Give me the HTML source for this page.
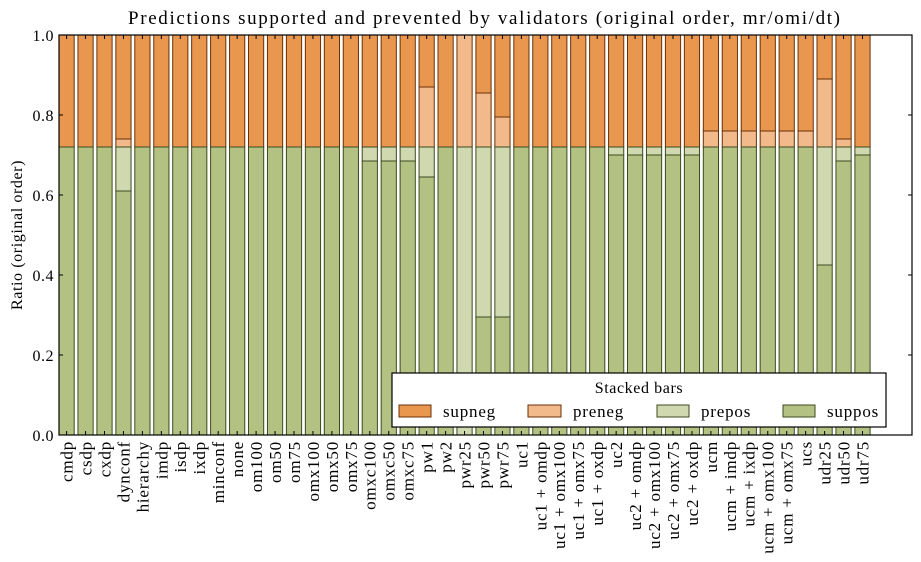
<!DOCTYPE html>
<html><head><meta charset="utf-8"><style>
html,body{margin:0;padding:0;background:#fff;}
svg{display:block;font-family:"Liberation Serif","DejaVu Serif",serif;}
.a{fill:#E9964F;stroke:#6b3005;stroke-width:1}
.b{fill:#F2B98A;stroke:#6b3005;stroke-width:1}
.c{fill:#D0D8B0;stroke:#3c4a1f;stroke-width:1}
.d{fill:#B3C283;stroke:#3c4a1f;stroke-width:1}
.l{font-size:17px;letter-spacing:0.8px}
</style></head><body>
<svg width="921" height="562" viewBox="0 0 921 562" xmlns="http://www.w3.org/2000/svg">
<rect width="921" height="562" fill="#fff"/>
<text x="128" y="24" font-size="19" textLength="712" lengthAdjust="spacing">Predictions supported and prevented by validators (original order, mr/omi/dt)</text>
<text transform="translate(22,235) rotate(-90)" font-size="16" letter-spacing="0.6" text-anchor="middle">Ratio (original order)</text>
<defs>
<g id="s">
<rect class="a" x="0" y="35" width="15.2" height="112"/><rect class="d" x="0" y="147" width="15.2" height="288"/>
</g>
</defs>
<g>
<use href="#s" x="59"/><use href="#s" x="77.95"/><use href="#s" x="96.9"/>
<g transform="translate(115.85,0)"><rect class="a" y="35" width="15.2" height="104"/><rect class="b" y="139" width="15.2" height="8"/><rect class="c" y="147" width="15.2" height="44"/><rect class="d" y="191" width="15.2" height="244"/></g>
<use href="#s" x="134.8"/><use href="#s" x="153.75"/><use href="#s" x="172.7"/><use href="#s" x="191.65"/><use href="#s" x="210.6"/><use href="#s" x="229.55"/><use href="#s" x="248.5"/><use href="#s" x="267.45"/><use href="#s" x="286.4"/><use href="#s" x="305.35"/><use href="#s" x="324.3"/><use href="#s" x="343.25"/>
<g transform="translate(362.2,0)"><rect class="a" y="35" width="15.2" height="112"/><rect class="c" y="147" width="15.2" height="14"/><rect class="d" y="161" width="15.2" height="274"/></g>
<g transform="translate(381.15,0)"><rect class="a" y="35" width="15.2" height="112"/><rect class="c" y="147" width="15.2" height="14"/><rect class="d" y="161" width="15.2" height="274"/></g>
<g transform="translate(400.1,0)"><rect class="a" y="35" width="15.2" height="112"/><rect class="c" y="147" width="15.2" height="14"/><rect class="d" y="161" width="15.2" height="274"/></g>
<g transform="translate(419.05,0)"><rect class="a" y="35" width="15.2" height="52"/><rect class="b" y="87" width="15.2" height="60"/><rect class="c" y="147" width="15.2" height="30"/><rect class="d" y="177" width="15.2" height="258"/></g>
<use href="#s" x="438"/>
<g transform="translate(456.95,0)"><rect class="b" y="35" width="15.2" height="112"/><rect class="c" y="147" width="15.2" height="288"/></g>
<g transform="translate(475.9,0)"><rect class="a" y="35" width="15.2" height="58"/><rect class="b" y="93" width="15.2" height="54"/><rect class="c" y="147" width="15.2" height="170"/><rect class="d" y="317" width="15.2" height="118"/></g>
<g transform="translate(494.85,0)"><rect class="a" y="35" width="15.2" height="82"/><rect class="b" y="117" width="15.2" height="30"/><rect class="c" y="147" width="15.2" height="170"/><rect class="d" y="317" width="15.2" height="118"/></g>
<use href="#s" x="513.8"/><use href="#s" x="532.75"/><use href="#s" x="551.7"/><use href="#s" x="570.65"/><use href="#s" x="589.6"/>
<g transform="translate(608.55,0)"><rect class="a" y="35" width="15.2" height="112"/><rect class="c" y="147" width="15.2" height="8"/><rect class="d" y="155" width="15.2" height="280"/></g>
<g transform="translate(627.5,0)"><rect class="a" y="35" width="15.2" height="112"/><rect class="c" y="147" width="15.2" height="8"/><rect class="d" y="155" width="15.2" height="280"/></g>
<g transform="translate(646.45,0)"><rect class="a" y="35" width="15.2" height="112"/><rect class="c" y="147" width="15.2" height="8"/><rect class="d" y="155" width="15.2" height="280"/></g>
<g transform="translate(665.4,0)"><rect class="a" y="35" width="15.2" height="112"/><rect class="c" y="147" width="15.2" height="8"/><rect class="d" y="155" width="15.2" height="280"/></g>
<g transform="translate(684.35,0)"><rect class="a" y="35" width="15.2" height="112"/><rect class="c" y="147" width="15.2" height="8"/><rect class="d" y="155" width="15.2" height="280"/></g>
<g transform="translate(703.3,0)"><rect class="a" y="35" width="15.2" height="96"/><rect class="b" y="131" width="15.2" height="16"/><rect class="d" y="147" width="15.2" height="288"/></g>
<g transform="translate(722.25,0)"><rect class="a" y="35" width="15.2" height="96"/><rect class="b" y="131" width="15.2" height="16"/><rect class="d" y="147" width="15.2" height="288"/></g>
<g transform="translate(741.2,0)"><rect class="a" y="35" width="15.2" height="96"/><rect class="b" y="131" width="15.2" height="16"/><rect class="d" y="147" width="15.2" height="288"/></g>
<g transform="translate(760.15,0)"><rect class="a" y="35" width="15.2" height="96"/><rect class="b" y="131" width="15.2" height="16"/><rect class="d" y="147" width="15.2" height="288"/></g>
<g transform="translate(779.1,0)"><rect class="a" y="35" width="15.2" height="96"/><rect class="b" y="131" width="15.2" height="16"/><rect class="d" y="147" width="15.2" height="288"/></g>
<g transform="translate(798.05,0)"><rect class="a" y="35" width="15.2" height="96"/><rect class="b" y="131" width="15.2" height="16"/><rect class="d" y="147" width="15.2" height="288"/></g>
<g transform="translate(817,0)"><rect class="a" y="35" width="15.2" height="44"/><rect class="b" y="79" width="15.2" height="68"/><rect class="c" y="147" width="15.2" height="118"/><rect class="d" y="265" width="15.2" height="170"/></g>
<g transform="translate(835.95,0)"><rect class="a" y="35" width="15.2" height="104"/><rect class="b" y="139" width="15.2" height="8"/><rect class="c" y="147" width="15.2" height="14"/><rect class="d" y="161" width="15.2" height="274"/></g>
<g transform="translate(854.9,0)"><rect class="a" y="35" width="15.2" height="112"/><rect class="c" y="147" width="15.2" height="8"/><rect class="d" y="155" width="15.2" height="280"/></g>
</g>
<g stroke="#000" stroke-width="1">
<path d="M66.6 35v4M85.55 35v4M104.5 35v4M123.45 35v4M142.4 35v4M161.35 35v4M180.3 35v4M199.25 35v4M218.2 35v4M237.15 35v4M256.1 35v4M275.05 35v4M294 35v4M312.95 35v4M331.9 35v4M350.85 35v4M369.8 35v4M388.75 35v4M407.7 35v4M426.65 35v4M445.6 35v4M464.55 35v4M483.5 35v4M502.45 35v4M521.4 35v4M540.35 35v4M559.3 35v4M578.25 35v4M597.2 35v4M616.15 35v4M635.1 35v4M654.05 35v4M673 35v4M691.95 35v4M710.9 35v4M729.85 35v4M748.8 35v4M767.75 35v4M786.7 35v4M805.65 35v4M824.6 35v4M843.55 35v4M862.5 35v4"/>
<path d="M66.6 435v-4M85.55 435v-4M104.5 435v-4M123.45 435v-4M142.4 435v-4M161.35 435v-4M180.3 435v-4M199.25 435v-4M218.2 435v-4M237.15 435v-4M256.1 435v-4M275.05 435v-4M294 435v-4M312.95 435v-4M331.9 435v-4M350.85 435v-4M369.8 435v-4M388.75 435v-4M407.7 435v-4M426.65 435v-4M445.6 435v-4M464.55 435v-4M483.5 435v-4M502.45 435v-4M521.4 435v-4M540.35 435v-4M559.3 435v-4M578.25 435v-4M597.2 435v-4M616.15 435v-4M635.1 435v-4M654.05 435v-4M673 435v-4M691.95 435v-4M710.9 435v-4M729.85 435v-4M748.8 435v-4M767.75 435v-4M786.7 435v-4M805.65 435v-4M824.6 435v-4M843.55 435v-4M862.5 435v-4"/>
<path d="M59 355h4M59 275h4M59 195h4M59 115h4M912 355h-4M912 275h-4M912 195h-4M912 115h-4"/>
</g>
<rect x="59" y="35" width="853" height="400" fill="none" stroke="#000" stroke-width="1.2"/>
<g font-size="16" text-anchor="end" letter-spacing="0.5">
<text x="54" y="441">0.0</text><text x="54" y="361">0.2</text><text x="54" y="281">0.4</text><text x="54" y="201">0.6</text><text x="54" y="121">0.8</text><text x="54" y="41">1.0</text>
</g>
<g class="l" text-anchor="end">
<text transform="translate(72.5,441) rotate(-90)">cmdp</text>
<text transform="translate(91.45,441) rotate(-90)">csdp</text>
<text transform="translate(110.4,441) rotate(-90)">cxdp</text>
<text transform="translate(129.35,441) rotate(-90)">dynconf</text>
<text transform="translate(148.3,441) rotate(-90)">hierarchy</text>
<text transform="translate(167.25,441) rotate(-90)">imdp</text>
<text transform="translate(186.2,441) rotate(-90)">isdp</text>
<text transform="translate(205.15,441) rotate(-90)">ixdp</text>
<text transform="translate(224.1,441) rotate(-90)">minconf</text>
<text transform="translate(243.05,441) rotate(-90)">none</text>
<text transform="translate(262,441) rotate(-90)">om100</text>
<text transform="translate(280.95,441) rotate(-90)">om50</text>
<text transform="translate(299.9,441) rotate(-90)">om75</text>
<text transform="translate(318.85,441) rotate(-90)">omx100</text>
<text transform="translate(337.8,441) rotate(-90)">omx50</text>
<text transform="translate(356.75,441) rotate(-90)">omx75</text>
<text transform="translate(375.7,441) rotate(-90)">omxc100</text>
<text transform="translate(394.65,441) rotate(-90)">omxc50</text>
<text transform="translate(413.6,441) rotate(-90)">omxc75</text>
<text transform="translate(432.55,441) rotate(-90)">pw1</text>
<text transform="translate(451.5,441) rotate(-90)">pw2</text>
<text transform="translate(470.45,441) rotate(-90)">pwr25</text>
<text transform="translate(489.4,441) rotate(-90)">pwr50</text>
<text transform="translate(508.35,441) rotate(-90)">pwr75</text>
<text transform="translate(527.3,441) rotate(-90)">uc1</text>
<text transform="translate(546.25,441) rotate(-90)">uc1 + omdp</text>
<text transform="translate(565.2,441) rotate(-90)">uc1 + omx100</text>
<text transform="translate(584.15,441) rotate(-90)">uc1 + omx75</text>
<text transform="translate(603.1,441) rotate(-90)">uc1 + oxdp</text>
<text transform="translate(622.05,441) rotate(-90)">uc2</text>
<text transform="translate(641,441) rotate(-90)">uc2 + omdp</text>
<text transform="translate(659.95,441) rotate(-90)">uc2 + omx100</text>
<text transform="translate(678.9,441) rotate(-90)">uc2 + omx75</text>
<text transform="translate(697.85,441) rotate(-90)">uc2 + oxdp</text>
<text transform="translate(716.8,441) rotate(-90)">ucm</text>
<text transform="translate(735.75,441) rotate(-90)">ucm + imdp</text>
<text transform="translate(754.7,441) rotate(-90)">ucm + ixdp</text>
<text transform="translate(773.65,441) rotate(-90)">ucm + omx100</text>
<text transform="translate(792.6,441) rotate(-90)">ucm + omx75</text>
<text transform="translate(811.55,441) rotate(-90)">ucs</text>
<text transform="translate(830.5,441) rotate(-90)">udr25</text>
<text transform="translate(849.45,441) rotate(-90)">udr50</text>
<text transform="translate(868.4,441) rotate(-90)">udr75</text>
</g>
<rect x="392" y="373" width="494" height="54" fill="#fff" stroke="#000" stroke-width="1.2"/>
<text x="639" y="393" font-size="16" letter-spacing="0.6" text-anchor="middle">Stacked bars</text>
<rect class="a" x="399" y="405" width="32" height="12"/>
<rect class="b" x="528" y="405" width="33" height="12"/>
<rect class="c" x="657" y="405" width="32" height="12"/>
<rect class="d" x="783" y="405" width="32" height="12"/>
<g font-size="17" letter-spacing="0.8"><text x="443" y="417">supneg</text><text x="573" y="417">preneg</text><text x="701" y="417">prepos</text><text x="827" y="417">suppos</text></g>
</svg>
</body></html>
